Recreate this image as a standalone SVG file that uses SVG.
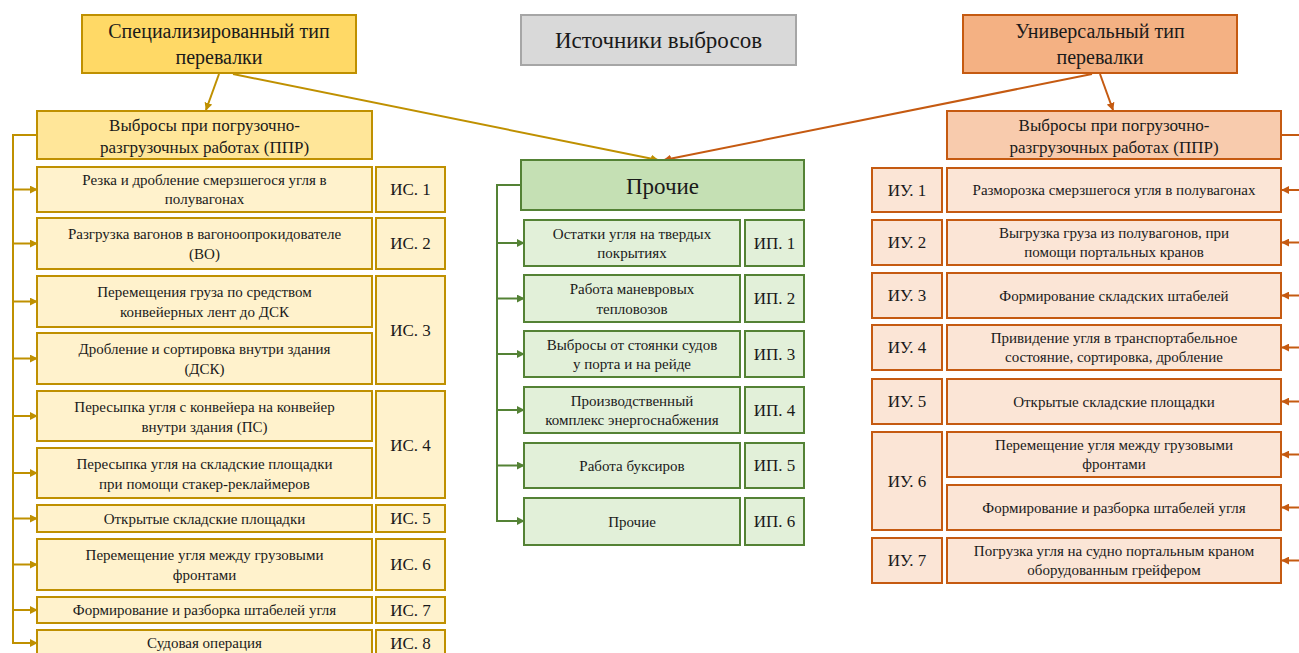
<svg xmlns="http://www.w3.org/2000/svg" width="1299" height="653" viewBox="0 0 1299 653">
  <defs>
    <marker id="arrGold" viewBox="0 0 10 10" refX="9" refY="5" markerWidth="8" markerHeight="8" markerUnits="userSpaceOnUse" orient="auto">
      <path d="M0,0 L10,5 L0,10 z" fill="#bf9000"/>
    </marker>
    <marker id="arrGreen" viewBox="0 0 10 10" refX="9" refY="5" markerWidth="8" markerHeight="8" markerUnits="userSpaceOnUse" orient="auto">
      <path d="M0,0 L10,5 L0,10 z" fill="#548235"/>
    </marker>
    <marker id="arrOrange" viewBox="0 0 10 10" refX="9" refY="5" markerWidth="8" markerHeight="8" markerUnits="userSpaceOnUse" orient="auto">
      <path d="M0,0 L10,5 L0,10 z" fill="#c55a11"/>
    </marker>
  </defs>
  <style>
    .g-head { fill: #ffd966; stroke: #bf9000; stroke-width: 2; }
    .g-prr { fill: #ffe699; stroke: #bf9000; stroke-width: 2; }
    .g-item { fill: #fff2cc; stroke: #bf9000; stroke-width: 2; }
    .gr-head { fill: #c5e0b4; stroke: #548235; stroke-width: 2; }
    .gr-item { fill: #e2f0d9; stroke: #548235; stroke-width: 2; }
    .o-head { fill: #f4b183; stroke: #c55a11; stroke-width: 2; }
    .o-prr { fill: #f8cbad; stroke: #c55a11; stroke-width: 2; }
    .o-item { fill: #fbe5d6; stroke: #c55a11; stroke-width: 2; }
    .title-box { fill: #d9d9d9; stroke: #a6a6a6; stroke-width: 2; }
    .c-gold { stroke: #bf9000; stroke-width: 2; fill: none; }
    .c-green { stroke: #548235; stroke-width: 2; fill: none; }
    .c-orange { stroke: #c55a11; stroke-width: 2; fill: none; }
  </style>
  <rect width="1299" height="653" fill="#ffffff"/>

  <!-- connectors -->
  <g id="connectors">
    <!-- specialised branch -->
    <line class="c-gold" x1="219" y1="74" x2="206" y2="110" marker-end="url(#arrGold)"/>
    <line class="c-gold" x1="233" y1="74" x2="658" y2="160" marker-end="url(#arrGold)"/>
    <polyline class="c-gold" points="37,135 13,135 13,643"/>
    <line class="c-gold" x1="13" y1="189.5" x2="37" y2="189.5" marker-end="url(#arrGold)"/>
    <line class="c-gold" x1="13" y1="243.5" x2="37" y2="243.5" marker-end="url(#arrGold)"/>
    <line class="c-gold" x1="13" y1="301.5" x2="37" y2="301.5" marker-end="url(#arrGold)"/>
    <line class="c-gold" x1="13" y1="358.5" x2="37" y2="358.5" marker-end="url(#arrGold)"/>
    <line class="c-gold" x1="13" y1="416" x2="37" y2="416" marker-end="url(#arrGold)"/>
    <line class="c-gold" x1="13" y1="473" x2="37" y2="473" marker-end="url(#arrGold)"/>
    <line class="c-gold" x1="13" y1="518.5" x2="37" y2="518.5" marker-end="url(#arrGold)"/>
    <line class="c-gold" x1="13" y1="564.5" x2="37" y2="564.5" marker-end="url(#arrGold)"/>
    <line class="c-gold" x1="13" y1="610" x2="37" y2="610" marker-end="url(#arrGold)"/>
    <line class="c-gold" x1="12" y1="643" x2="37" y2="643" marker-end="url(#arrGold)"/>
    <!-- universal branch -->
    <line class="c-orange" x1="1100" y1="74" x2="1113" y2="110" marker-end="url(#arrOrange)"/>
    <line class="c-orange" x1="1092" y1="74" x2="664" y2="160" marker-end="url(#arrOrange)"/>
    <polyline class="c-orange" points="1281,135 1306,135 1306,561"/>
    <line class="c-orange" x1="1306" y1="190" x2="1282" y2="190" marker-end="url(#arrOrange)"/>
    <line class="c-orange" x1="1306" y1="242.5" x2="1282" y2="242.5" marker-end="url(#arrOrange)"/>
    <line class="c-orange" x1="1306" y1="295.5" x2="1282" y2="295.5" marker-end="url(#arrOrange)"/>
    <line class="c-orange" x1="1306" y1="347.5" x2="1282" y2="347.5" marker-end="url(#arrOrange)"/>
    <line class="c-orange" x1="1306" y1="401.5" x2="1282" y2="401.5" marker-end="url(#arrOrange)"/>
    <line class="c-orange" x1="1306" y1="454.5" x2="1282" y2="454.5" marker-end="url(#arrOrange)"/>
    <line class="c-orange" x1="1306" y1="507.5" x2="1282" y2="507.5" marker-end="url(#arrOrange)"/>
    <line class="c-orange" x1="1306" y1="560.5" x2="1282" y2="560.5" marker-end="url(#arrOrange)"/>
    <!-- other sources -->
    <polyline class="c-green" points="521,185 497,185 497,521"/>
    <line class="c-green" x1="497" y1="243" x2="524" y2="243" marker-end="url(#arrGreen)"/>
    <line class="c-green" x1="497" y1="298.5" x2="524" y2="298.5" marker-end="url(#arrGreen)"/>
    <line class="c-green" x1="497" y1="354" x2="524" y2="354" marker-end="url(#arrGreen)"/>
    <line class="c-green" x1="497" y1="410" x2="524" y2="410" marker-end="url(#arrGreen)"/>
    <line class="c-green" x1="497" y1="465.5" x2="524" y2="465.5" marker-end="url(#arrGreen)"/>
    <line class="c-green" x1="496" y1="521" x2="524" y2="521" marker-end="url(#arrGreen)"/>
  </g>

  <!-- title -->
  <g id="title" text-anchor="middle" fill="#1a1a1a">
    <rect class="title-box" x="521" y="15" width="275" height="50"/>
    <text font-family="Liberation Serif" font-size="23" x="658.5" y="48">Источники выбросов</text>
  </g>

  <!-- specialised handling -->
  <g id="specialised" text-anchor="middle">
    <g id="spec-head">
      <rect class="g-head" x="82" y="15" width="274" height="58"/>
      <text font-family="Liberation Serif" font-size="20" fill="#1a1a1a" x="219" y="38">Специализированный тип</text>
      <text font-family="Liberation Serif" font-size="20" fill="#1a1a1a" x="219" y="64">перевалки</text>
    </g>
    <g id="spec-prr">
      <rect class="g-prr" x="37" y="111" width="335" height="48"/>
      <text font-family="Liberation Serif" font-size="17" fill="#1a1a1a" x="204.5" y="131">Выбросы при погрузочно-</text>
      <text font-family="Liberation Serif" font-size="17" fill="#1a1a1a" x="204.5" y="153">разгрузочных  работах (ППР)</text>
    </g>
    <g id="spec-1">
      <rect class="g-item" x="37" y="167" width="335" height="45"/>
      <text font-family="Liberation Serif" font-size="15" fill="#1a1a1a" x="204.5" y="185">Резка и дробление смерзшегося угля в</text>
      <text font-family="Liberation Serif" font-size="15" fill="#1a1a1a" x="204.5" y="204">полувагонах</text>
    </g>
    <g id="spec-2">
      <rect class="g-item" x="37" y="218" width="335" height="51"/>
      <text font-family="Liberation Serif" font-size="15" fill="#1a1a1a" x="204.5" y="239">Разгрузка вагонов в вагоноопрокидователе</text>
      <text font-family="Liberation Serif" font-size="15" fill="#1a1a1a" x="204.5" y="259">(ВО)</text>
    </g>
    <g id="spec-3a">
      <rect class="g-item" x="37" y="276" width="335" height="51"/>
      <text font-family="Liberation Serif" font-size="15" fill="#1a1a1a" x="204.5" y="297">Перемещения груза по средством</text>
      <text font-family="Liberation Serif" font-size="15" fill="#1a1a1a" x="204.5" y="317">конвейерных лент до ДСК</text>
    </g>
    <g id="spec-3b">
      <rect class="g-item" x="37" y="333" width="335" height="51"/>
      <text font-family="Liberation Serif" font-size="15" fill="#1a1a1a" x="204.5" y="354">Дробление и сортировка внутри здания</text>
      <text font-family="Liberation Serif" font-size="15" fill="#1a1a1a" x="204.5" y="374">(ДСК)</text>
    </g>
    <g id="spec-4a">
      <rect class="g-item" x="37" y="391" width="335" height="50"/>
      <text font-family="Liberation Serif" font-size="15" fill="#1a1a1a" x="204.5" y="412">Пересыпка угля с конвейера на конвейер</text>
      <text font-family="Liberation Serif" font-size="15" fill="#1a1a1a" x="204.5" y="432">внутри здания (ПС)</text>
    </g>
    <g id="spec-4b">
      <rect class="g-item" x="37" y="448" width="335" height="50"/>
      <text font-family="Liberation Serif" font-size="15" fill="#1a1a1a" x="204.5" y="469">Пересыпка угля на складские площадки</text>
      <text font-family="Liberation Serif" font-size="15" fill="#1a1a1a" x="204.5" y="489">при помощи стакер-реклаймеров</text>
    </g>
    <g id="spec-5">
      <rect class="g-item" x="37" y="505" width="335" height="27"/>
      <text font-family="Liberation Serif" font-size="15" fill="#1a1a1a" x="204.5" y="524">Открытые складские площадки</text>
    </g>
    <g id="spec-6">
      <rect class="g-item" x="37" y="539" width="335" height="51"/>
      <text font-family="Liberation Serif" font-size="15" fill="#1a1a1a" x="204.5" y="560">Перемещение угля между грузовыми</text>
      <text font-family="Liberation Serif" font-size="15" fill="#1a1a1a" x="204.5" y="580">фронтами</text>
    </g>
    <g id="spec-7">
      <rect class="g-item" x="37" y="597" width="335" height="26"/>
      <text font-family="Liberation Serif" font-size="15" fill="#1a1a1a" x="204.5" y="615">Формирование и разборка штабелей угля</text>
    </g>
    <g id="spec-8">
      <rect class="g-item" x="37" y="630" width="335" height="30"/>
      <text font-family="Liberation Serif" font-size="15" fill="#1a1a1a" x="204.5" y="648">Судовая операция</text>
    </g>
    <g id="spec-codes">
      <rect class="g-item" x="376" y="167" width="69" height="45"/>
      <text font-family="Liberation Serif" font-size="17" fill="#1a1a1a" x="410.5" y="195">ИС. 1</text>
      <rect class="g-item" x="376" y="218" width="69" height="51"/>
      <text font-family="Liberation Serif" font-size="17" fill="#1a1a1a" x="410.5" y="249">ИС. 2</text>
      <rect class="g-item" x="376" y="276" width="69" height="108"/>
      <text font-family="Liberation Serif" font-size="17" fill="#1a1a1a" x="410.5" y="336">ИС. 3</text>
      <rect class="g-item" x="376" y="391" width="69" height="107"/>
      <text font-family="Liberation Serif" font-size="17" fill="#1a1a1a" x="410.5" y="451">ИС. 4</text>
      <rect class="g-item" x="376" y="505" width="69" height="27"/>
      <text font-family="Liberation Serif" font-size="17" fill="#1a1a1a" x="410.5" y="524">ИС. 5</text>
      <rect class="g-item" x="376" y="539" width="69" height="51"/>
      <text font-family="Liberation Serif" font-size="17" fill="#1a1a1a" x="410.5" y="570">ИС. 6</text>
      <rect class="g-item" x="376" y="597" width="69" height="26"/>
      <text font-family="Liberation Serif" font-size="17" fill="#1a1a1a" x="410.5" y="616">ИС. 7</text>
      <rect class="g-item" x="376" y="630" width="69" height="30"/>
      <text font-family="Liberation Serif" font-size="17" fill="#1a1a1a" x="410.5" y="649">ИС. 8</text>
    </g>
  </g>

  <!-- other sources -->
  <g id="other" text-anchor="middle">
    <g id="other-head">
      <rect class="gr-head" x="521" y="160" width="283" height="50"/>
      <text font-family="Liberation Serif" font-size="23" fill="#1a1a1a" x="662.5" y="194">Прочие</text>
    </g>
    <g id="other-1">
      <rect class="gr-item" x="524" y="220" width="216" height="46"/>
      <text font-family="Liberation Serif" font-size="15" fill="#1a1a1a" x="632" y="239">Остатки угля на твердых</text>
      <text font-family="Liberation Serif" font-size="15" fill="#1a1a1a" x="632" y="258">покрытиях</text>
    </g>
    <g id="other-2">
      <rect class="gr-item" x="524" y="275" width="216" height="47"/>
      <text font-family="Liberation Serif" font-size="15" fill="#1a1a1a" x="632" y="294">Работа маневровых</text>
      <text font-family="Liberation Serif" font-size="15" fill="#1a1a1a" x="632" y="314">тепловозов</text>
    </g>
    <g id="other-3">
      <rect class="gr-item" x="524" y="331" width="216" height="46"/>
      <text font-family="Liberation Serif" font-size="15" fill="#1a1a1a" x="632" y="350">Выбросы от стоянки судов</text>
      <text font-family="Liberation Serif" font-size="15" fill="#1a1a1a" x="632" y="369">у порта и на рейде</text>
    </g>
    <g id="other-4">
      <rect class="gr-item" x="524" y="387" width="216" height="46"/>
      <text font-family="Liberation Serif" font-size="15" fill="#1a1a1a" x="632" y="406">Производственный</text>
      <text font-family="Liberation Serif" font-size="15" fill="#1a1a1a" x="632" y="425">комплекс энергоснабжения</text>
    </g>
    <g id="other-5">
      <rect class="gr-item" x="524" y="443" width="216" height="45"/>
      <text font-family="Liberation Serif" font-size="15" fill="#1a1a1a" x="632" y="471">Работа буксиров</text>
    </g>
    <g id="other-6">
      <rect class="gr-item" x="524" y="498" width="216" height="47"/>
      <text font-family="Liberation Serif" font-size="15" fill="#1a1a1a" x="632" y="527">Прочие</text>
    </g>
    <g id="other-codes">
      <rect class="gr-item" x="745" y="220" width="59" height="46"/>
      <text font-family="Liberation Serif" font-size="17" fill="#1a1a1a" x="774.5" y="249">ИП. 1</text>
      <rect class="gr-item" x="745" y="275" width="59" height="47"/>
      <text font-family="Liberation Serif" font-size="17" fill="#1a1a1a" x="774.5" y="304">ИП. 2</text>
      <rect class="gr-item" x="745" y="331" width="59" height="46"/>
      <text font-family="Liberation Serif" font-size="17" fill="#1a1a1a" x="774.5" y="360">ИП. 3</text>
      <rect class="gr-item" x="745" y="387" width="59" height="46"/>
      <text font-family="Liberation Serif" font-size="17" fill="#1a1a1a" x="774.5" y="416">ИП. 4</text>
      <rect class="gr-item" x="745" y="443" width="59" height="45"/>
      <text font-family="Liberation Serif" font-size="17" fill="#1a1a1a" x="774.5" y="471">ИП. 5</text>
      <rect class="gr-item" x="745" y="498" width="59" height="47"/>
      <text font-family="Liberation Serif" font-size="17" fill="#1a1a1a" x="774.5" y="527">ИП. 6</text>
    </g>
  </g>

  <!-- universal handling -->
  <g id="universal" text-anchor="middle">
    <g id="univ-head">
      <rect class="o-head" x="963" y="15" width="274" height="58"/>
      <text font-family="Liberation Serif" font-size="20" fill="#1a1a1a" x="1100" y="38">Универсальный тип</text>
      <text font-family="Liberation Serif" font-size="20" fill="#1a1a1a" x="1100" y="64">перевалки</text>
    </g>
    <g id="univ-prr">
      <rect class="o-prr" x="947" y="111" width="334" height="48"/>
      <text font-family="Liberation Serif" font-size="17" fill="#1a1a1a" x="1114" y="131">Выбросы при погрузочно-</text>
      <text font-family="Liberation Serif" font-size="17" fill="#1a1a1a" x="1114" y="153">разгрузочных  работах (ППР)</text>
    </g>
    <g id="univ-1">
      <rect class="o-item" x="947" y="168" width="334" height="44"/>
      <text font-family="Liberation Serif" font-size="15" fill="#1a1a1a" x="1114" y="195">Разморозка смерзшегося угля в полувагонах</text>
    </g>
    <g id="univ-2">
      <rect class="o-item" x="947" y="220" width="334" height="45"/>
      <text font-family="Liberation Serif" font-size="15" fill="#1a1a1a" x="1114" y="238">Выгрузка груза из полувагонов, при</text>
      <text font-family="Liberation Serif" font-size="15" fill="#1a1a1a" x="1114" y="257">помощи портальных кранов</text>
    </g>
    <g id="univ-3">
      <rect class="o-item" x="947" y="273" width="334" height="45"/>
      <text font-family="Liberation Serif" font-size="15" fill="#1a1a1a" x="1114" y="301">Формирование складских штабелей</text>
    </g>
    <g id="univ-4">
      <rect class="o-item" x="947" y="325" width="334" height="45"/>
      <text font-family="Liberation Serif" font-size="15" fill="#1a1a1a" x="1114" y="343">Привидение угля в транспортабельное</text>
      <text font-family="Liberation Serif" font-size="15" fill="#1a1a1a" x="1114" y="362">состояние, сортировка, дробление</text>
    </g>
    <g id="univ-5">
      <rect class="o-item" x="947" y="379" width="334" height="45"/>
      <text font-family="Liberation Serif" font-size="15" fill="#1a1a1a" x="1114" y="407">Открытые складские площадки</text>
    </g>
    <g id="univ-6a">
      <rect class="o-item" x="947" y="432" width="334" height="45"/>
      <text font-family="Liberation Serif" font-size="15" fill="#1a1a1a" x="1114" y="450">Перемещение угля между грузовыми</text>
      <text font-family="Liberation Serif" font-size="15" fill="#1a1a1a" x="1114" y="469">фронтами</text>
    </g>
    <g id="univ-6b">
      <rect class="o-item" x="947" y="485" width="334" height="45"/>
      <text font-family="Liberation Serif" font-size="15" fill="#1a1a1a" x="1114" y="513">Формирование и разборка штабелей угля</text>
    </g>
    <g id="univ-7">
      <rect class="o-item" x="947" y="538" width="334" height="45"/>
      <text font-family="Liberation Serif" font-size="15" fill="#1a1a1a" x="1114" y="556">Погрузка угля на судно портальным краном</text>
      <text font-family="Liberation Serif" font-size="15" fill="#1a1a1a" x="1114" y="575">оборудованным грейфером</text>
    </g>
    <g id="univ-codes">
      <rect class="o-item" x="872" y="168" width="70" height="44"/>
      <text font-family="Liberation Serif" font-size="17" fill="#1a1a1a" x="907" y="196">ИУ. 1</text>
      <rect class="o-item" x="872" y="220" width="70" height="45"/>
      <text font-family="Liberation Serif" font-size="17" fill="#1a1a1a" x="907" y="248">ИУ. 2</text>
      <rect class="o-item" x="872" y="273" width="70" height="45"/>
      <text font-family="Liberation Serif" font-size="17" fill="#1a1a1a" x="907" y="301">ИУ. 3</text>
      <rect class="o-item" x="872" y="325" width="70" height="45"/>
      <text font-family="Liberation Serif" font-size="17" fill="#1a1a1a" x="907" y="353">ИУ. 4</text>
      <rect class="o-item" x="872" y="379" width="70" height="45"/>
      <text font-family="Liberation Serif" font-size="17" fill="#1a1a1a" x="907" y="407">ИУ. 5</text>
      <rect class="o-item" x="872" y="432" width="70" height="98"/>
      <text font-family="Liberation Serif" font-size="17" fill="#1a1a1a" x="907" y="487">ИУ. 6</text>
      <rect class="o-item" x="872" y="538" width="70" height="45"/>
      <text font-family="Liberation Serif" font-size="17" fill="#1a1a1a" x="907" y="566">ИУ. 7</text>
    </g>
  </g>
</svg>
